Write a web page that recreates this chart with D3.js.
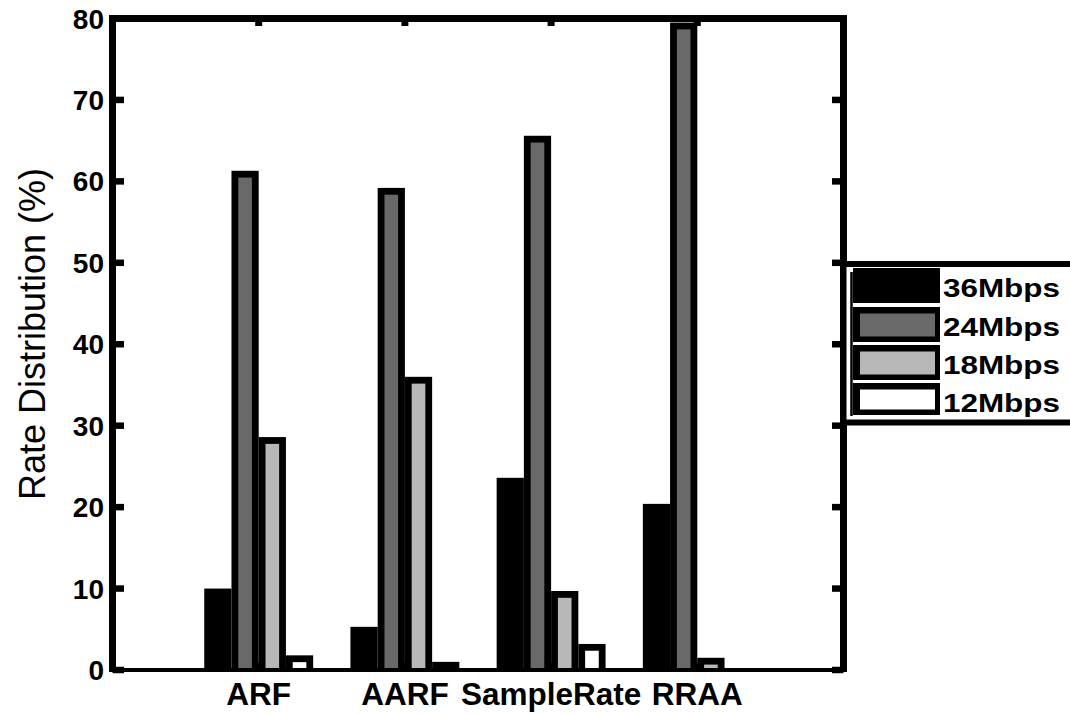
<!DOCTYPE html>
<html>
<head>
<meta charset="utf-8">
<script src="https://cdn.jsdelivr.net/npm/d3@7/dist/d3.min.js"></script>
<style>
  html, body { margin: 0; padding: 0; background: #fff; }
  svg { display: block; }
  text { font-family: "Liberation Sans", Arial, Helvetica, sans-serif; }
</style>
</head>
<body>
<svg id="chart" width="1070" height="714"></svg>
<script>
// Rate adaptation schemes and the share of time spent at each bit rate (%)
const categories = ["ARF", "AARF", "SampleRate", "RRAA"];
const seriesNames = ["36Mbps", "24Mbps", "18Mbps", "12Mbps"];
const rate36 = [10.0, 5.3, 23.6, 20.4];
const rate24 = [61.3, 59.2, 65.6, 79.5];
const rate18 = [28.6, 36.0, 9.7, 1.5];
const rate12 = [1.8, 1.0, 3.2, 0];
const seriesColors = ["#000000", "#696969", "#b8b8b8", "#ffffff"];
const yTicks = [0, 10, 20, 30, 40, 50, 60, 70, 80];

const series = [rate36, rate24, rate18, rate12];

const svg = d3.select("#chart");
svg.append("rect").attr("width", 1070).attr("height", 714).attr("fill", "#fff");

// Axes: categories sit at 1..4 on a 0..5 range
const x = d3.scaleLinear().domain([0, 5]).range([112.5, 843.5]);
const y = d3.scaleLinear().domain([0, 80]).range([670, 18.5]);

const groupWidth = 0.745;
const barW = (x(groupWidth) - x(0)) / series.length;
const border = 6.8;

const axisG = svg.append("g");

// inward ticks on left and right
yTicks.forEach(t => {
  axisG.append("line")
    .attr("x1", x(0)).attr("x2", x(0) + 11.5)
    .attr("y1", y(t)).attr("y2", y(t))
    .attr("stroke", "#000").attr("stroke-width", 6.5);
  axisG.append("line")
    .attr("x1", x(5)).attr("x2", x(5) - 11.5)
    .attr("y1", y(t)).attr("y2", y(t))
    .attr("stroke", "#000").attr("stroke-width", 6.5);
});
// inward ticks on top and bottom at category positions
categories.forEach((c, i) => {
  axisG.append("line")
    .attr("x1", x(i + 1)).attr("x2", x(i + 1))
    .attr("y1", y(80)).attr("y2", y(80) + 7.5)
    .attr("stroke", "#000").attr("stroke-width", 7);
  axisG.append("line")
    .attr("x1", x(i + 1)).attr("x2", x(i + 1))
    .attr("y1", y(0)).attr("y2", y(0) - 7.5)
    .attr("stroke", "#000").attr("stroke-width", 7);
});

// grouped bars: black outline drawn inside each bar
const barsG = svg.append("g");
categories.forEach((c, i) => {
  series.forEach((vals, j) => {
    const v = vals[i];
    if (v <= 0) return;
    const left = x(i + 1) + (j - series.length / 2) * barW;
    const top = y(v);
    const h = y(0) - top;
    barsG.append("rect")
      .attr("x", left).attr("y", top)
      .attr("width", barW).attr("height", h)
      .attr("fill", "#000");
    if (h > border) {
      barsG.append("rect")
        .attr("x", left + border).attr("y", top + border)
        .attr("width", barW - 2 * border).attr("height", h - border)
        .attr("fill", seriesColors[j]);
    }
  });
});

// frame
const frame = svg.append("g");
frame.append("line").attr("x1", x(0)).attr("x2", x(0)).attr("y1", 15).attr("y2", 672)
  .attr("stroke", "#000").attr("stroke-width", 7);
frame.append("line").attr("x1", x(5)).attr("x2", x(5)).attr("y1", 15).attr("y2", 672)
  .attr("stroke", "#000").attr("stroke-width", 7);
frame.append("line").attr("x1", x(0) - 3.5).attr("x2", x(5) + 3.5).attr("y1", y(80)).attr("y2", y(80))
  .attr("stroke", "#000").attr("stroke-width", 7);
frame.append("line").attr("x1", x(0) - 3.5).attr("x2", x(5) + 3.5).attr("y1", y(0)).attr("y2", y(0))
  .attr("stroke", "#000").attr("stroke-width", 4);

// y tick labels
svg.append("g").selectAll("text").data(yTicks).join("text")
  .attr("x", 104).attr("y", d => y(d))
  .attr("dy", "0.36em")
  .attr("text-anchor", "end")
  .attr("font-size", 28).attr("font-weight", "bold")
  .text(d => d);

// x category labels
svg.append("g").selectAll("text").data(categories).join("text")
  .attr("x", (d, i) => x(i + 1)).attr("y", 705)
  .attr("text-anchor", "middle")
  .attr("font-size", 31.5).attr("font-weight", "bold")
  .text(d => d);

// y axis title
svg.append("text")
  .attr("transform", "translate(45,334) rotate(-90)")
  .attr("text-anchor", "middle")
  .attr("font-size", 36)
  .text("Rate Distribution (%)");

// legend
const lg = svg.append("g");
lg.append("rect")
  .attr("x", x(5)).attr("y", 264).attr("width", 300).attr("height", 158.5)
  .attr("fill", "#fff").attr("stroke", "#000").attr("stroke-width", 6);
lg.append("line").attr("x1", 851.5).attr("x2", 851.5).attr("y1", 272).attr("y2", 416)
  .attr("stroke", "#000").attr("stroke-width", 2.5);

const swTop = [268, 307, 345, 383];
const swH = [35, 35, 35, 32];
seriesNames.forEach((name, j) => {
  lg.append("rect")
    .attr("x", 853).attr("y", swTop[j]).attr("width", 87).attr("height", swH[j])
    .attr("fill", "#000");
  lg.append("rect")
    .attr("x", 853 + 7).attr("y", swTop[j] + 6.5).attr("width", 87 - 12).attr("height", swH[j] - 12)
    .attr("fill", seriesColors[j]);
  lg.append("text")
    .attr("x", 943).attr("y", swTop[j] + 29)
    .attr("font-size", 26).attr("font-weight", "bold")
    .attr("textLength", 117).attr("lengthAdjust", "spacingAndGlyphs")
    .text(name);
});
</script>
</body>
</html>
